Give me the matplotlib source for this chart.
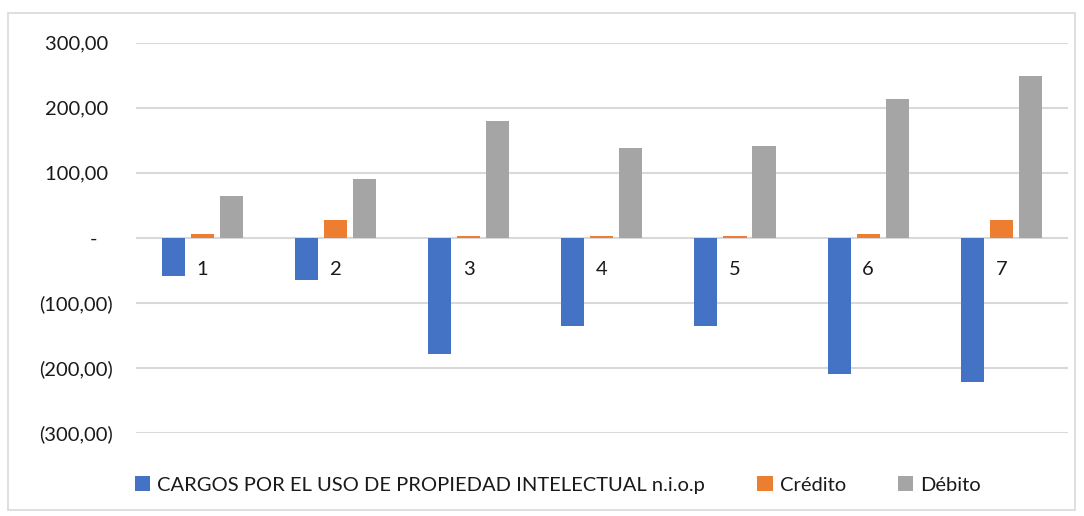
import matplotlib.pyplot as plt
import numpy as np
from matplotlib.patches import Rectangle

plt.rcParams['font.family'] = ['Lato', 'DejaVu Sans']

# values
categories = ['1', '2', '3', '4', '5', '6', '7']
cargos = [-59, -65, -179, -136, -136, -210, -222]
credito = [5, 26.5, 2, 2, 2, 5, 26.5]
debito = [63.5, 91, 180, 137.5, 140.5, 214, 248]
series_names = ['CARGOS POR EL USO DE PROPIEDAD INTELECTUAL n.i.o.p', 'Crédito', 'Débito']
colors = ['#4472C4', '#ED7D31', '#A5A5A5']
yticks = [-300, -200, -100, 0, 100, 200, 300]
# accounting-style labels (trailing spaces line up with the parentheses)
ytick_labels = ['(300,00)', '(200,00)', '(100,00)', '-   ', '100,00 ', '200,00 ', '300,00 ']

fig = plt.figure(figsize=(10.84, 5.16), dpi=100)
ax = fig.add_axes([0.1255, 0.1614, 0.8595, 0.7559])

# chart border
fig.patches.append(Rectangle((8 / 1084, 1 - 510 / 516), 1067 / 1084, 497 / 516,
                             transform=fig.transFigure, fill=False,
                             edgecolor='#d9d9d9', linewidth=1.2))

x = np.arange(len(categories))
w = 0.173
step = 0.218
bars = []
for k, vals in enumerate([cargos, credito, debito]):
    b = ax.bar(x + (k - 1) * step, vals, width=w, color=colors[k], label=series_names[k], zorder=2)
    bars.append(b)

ax.set_xlim(-0.5, len(categories) - 0.5)
ax.set_ylim(-300, 300)
ax.set_yticks(yticks)
ax.set_yticklabels(ytick_labels)
ax.yaxis.grid(True, color='#d9d9d9', linewidth=1.5)
ax.set_axisbelow(True)
for s in ax.spines.values():
    s.set_visible(False)
ax.tick_params(axis='y', length=0, pad=16.5, labelsize=14.5, labelcolor='#1a1a1a')

# category labels next to the zero line
ax.set_xticks([])
for i, c in enumerate(categories):
    ax.annotate(c, (i, 0), xytext=(0, -32), textcoords='offset pixels',
                ha='center', va='center', fontsize=14.5, color='#1a1a1a')

fig.legend(handles=bars, labels=series_names, loc='center', ncol=3,
           bbox_to_anchor=(558 / 1084, 1 - 485 / 516), frameon=False,
           fontsize=14.5, handlelength=0.75, handleheight=0.75,
           handletextpad=0.35, columnspacing=2.6, labelcolor='#1a1a1a')

fig.savefig('out.png', dpi=100)
